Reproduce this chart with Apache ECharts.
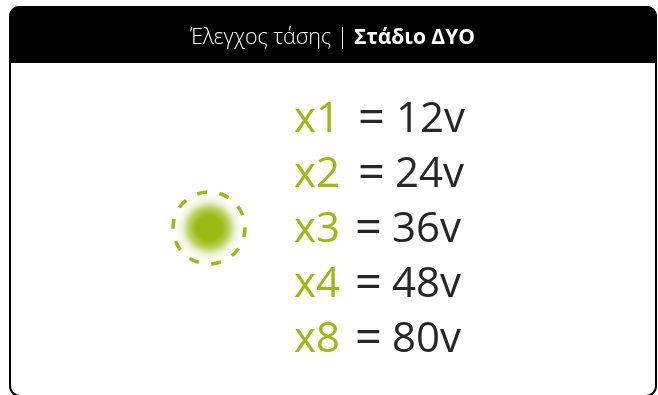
<!DOCTYPE html>
<html>
<head>
<meta charset="utf-8">
<style>
  html, body { margin: 0; padding: 0; background: #fff; }
  #chart { width: 658px; height: 395px; }
</style>
</head>
<body>
<div id="chart"></div>
<script src="https://cdn.jsdelivr.net/npm/echarts@6/dist/echarts.min.js"></script>
<script>
const titleLight = 'Έλεγχος τάσης | ';
const titleBold = 'Στάδιο ΔΥΟ';
const multipliers = ['x1', 'x2', 'x3', 'x4', 'x8'];
const volts = ['12v', '24v', '36v', '48v', '80v'];
const equalsX = [358, 358, 355, 355, 355];
const voltsX = [396, 395, 392, 392, 392];
const indicatorRow = 'x3';

const GREEN = '#9bba13';
const DARK = '#262626';
const FONT = '"Open Sans", sans-serif';

const chart = echarts.init(document.getElementById('chart'));

function textSeries(name, data, color, fontSize) {
    return {
        name: name,
        type: 'scatter',
        symbolSize: 0,
        silent: true,
        data: data,
        itemStyle: { opacity: 1 },
        label: {
            show: true,
            position: 'right',
            distance: 0,
            color: color,
            opacity: 1,
            fontFamily: FONT,
            fontSize: fontSize,
            formatter: p => p.data[2],
        },
    };
}

chart.setOption({
    animation: false,
    backgroundColor: '#fff',
    title: {
        text: '{a|' + titleLight + '}{b|' + titleBold + '}',
        left: 327.5,
        top: 22,
        textAlign: 'center',
        textStyle: {
            rich: {
                a: { color: '#fff', fontFamily: FONT, fontSize: 21.5, fontWeight: 300 },
                b: { color: '#fff', fontFamily: FONT, fontSize: 21, fontWeight: 700 },
            },
        },
    },
    grid: { left: 0, top: 92.5, width: 658, height: 275 },
    xAxis: { type: 'value', min: 0, max: 658, show: false },
    yAxis: { type: 'category', inverse: true, data: multipliers, show: false },
    graphic: [
        {
            type: 'rect',
            z: -1,
            shape: { x: 10, y: 7, width: 646, height: 389, r: 10 },
            style: { fill: '#fff', stroke: '#000', lineWidth: 2 },
        },
        {
            type: 'rect',
            z: -1,
            shape: { x: 9, y: 6, width: 648, height: 57, r: [10, 10, 0, 0] },
            style: { fill: '#000' },
        },
    ],
    series: [
        {
            name: 'glow',
            type: 'scatter',
            silent: true,
            symbol: 'circle',
            symbolSize: 66,
            symbolOffset: [0, -2],
            data: [[209, indicatorRow]],
            itemStyle: {
                opacity: 1,
                color: {
                    type: 'radial',
                    x: 0.5, y: 0.5, r: 0.5,
                    colorStops: [
                        { offset: 0, color: 'rgba(155,186,19,1)' },
                        { offset: 0.38, color: 'rgba(155,186,19,1)' },
                        { offset: 0.6, color: 'rgba(155,186,19,0.68)' },
                        { offset: 0.8, color: 'rgba(155,186,19,0.18)' },
                        { offset: 1, color: 'rgba(155,186,19,0)' },
                    ],
                },
            },
        },
        {
            name: 'ring',
            type: 'scatter',
            silent: true,
            symbol: 'circle',
            symbolSize: 72,
            symbolOffset: [0, -2],
            data: [[209, indicatorRow]],
            itemStyle: {
                opacity: 1,
                color: 'transparent',
                borderColor: GREEN,
                borderWidth: 3.5,
                borderType: [10, 12.62],
                borderDashOffset: 1,
            },
        },
        textSeries('multiplier', multipliers.map((m, i) => [294, m, m]), GREEN, 42),
        textSeries('equals', multipliers.map((m, i) => [equalsX[i], m, '=']), DARK, 47),
        textSeries('volts', multipliers.map((m, i) => [voltsX[i], m, volts[i]]), DARK, 42),
    ],
});
</script>
</body>
</html>
